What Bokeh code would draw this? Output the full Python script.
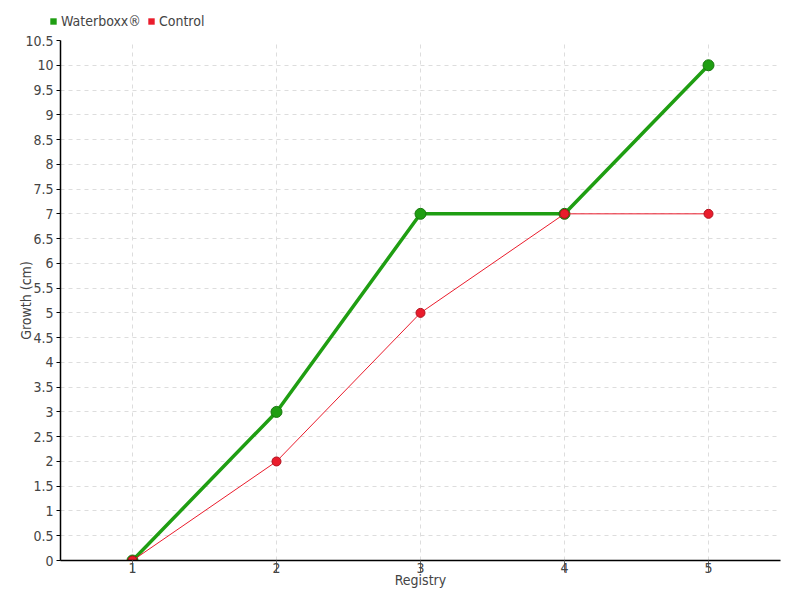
from bokeh.plotting import figure
from bokeh.layouts import column
from bokeh.models import Legend, LegendItem, FixedTicker, Range1d
from bokeh.embed import file_html
from bokeh.resources import INLINE

registry = [1, 2, 3, 4, 5]
waterboxx = [0, 3, 7, 7, 10]
control = [0, 2, 5, 7, 7]
y_ticks = [i * 0.5 for i in range(22)]
series_names = ["Waterboxx®", "Control"]

FONT = "DejaVu Sans Condensed"
GREEN = "#1f9e12"
GREEN_DARK = "#17780d"
RED = "#ea1c2c"

# main plot
p = figure(width=800, height=568, output_backend="svg", toolbar_location=None,
           x_range=Range1d(0.5, 5.5), y_range=Range1d(0, 10.5),
           min_border_left=60, min_border_right=20, min_border_top=8, min_border_bottom=40)
p.outline_line_color = None

p.line(registry, waterboxx, line_color=GREEN, line_width=3.5)
p.scatter(registry, waterboxx, size=11, fill_color=GREEN, line_color=GREEN_DARK, line_width=1)
p.line(registry, control, line_color=RED, line_width=1)
p.scatter(registry, control, size=9, fill_color=RED, line_color="#b0101c", line_width=1)

p.xaxis.ticker = FixedTicker(ticks=registry)
p.yaxis.ticker = FixedTicker(ticks=y_ticks)
p.yaxis.major_label_overrides = {t: (str(int(t)) if t == int(t) else str(t)) for t in y_ticks}

for ax in (p.xaxis[0], p.yaxis[0]):
    ax.major_label_text_font = FONT
    ax.major_label_text_font_size = "14px"
    ax.major_label_text_color = "#444444"
    ax.axis_label_text_font = FONT
    ax.axis_label_text_font_size = "14px"
    ax.axis_label_text_color = "#444444"
    ax.axis_label_text_font_style = "normal"
    ax.minor_tick_line_color = None
    ax.axis_line_color = "#000000"
    ax.axis_line_width = 1.5

p.xaxis.axis_label = "Registry"
p.yaxis.axis_label = "Growth (cm)"
p.xaxis.major_tick_line_color = "#666666"
p.xaxis.major_tick_in = 0
p.xaxis.major_tick_out = 12
p.xaxis.major_label_standoff = -10
p.xaxis.axis_label_standoff = -4
p.yaxis.major_tick_line_color = "#000000"
p.yaxis.major_tick_in = 0
p.yaxis.major_tick_out = 4
p.yaxis.major_label_standoff = 3
p.yaxis.axis_label_standoff = -12

p.grid.grid_line_color = "#dddddd"
p.grid.grid_line_dash = "4 4"
p.grid.grid_line_width = 1

# legend strip above the plot (proxy renderers lie outside its ranges)
lf = figure(width=800, height=32, output_backend="svg", toolbar_location=None,
            x_range=Range1d(100, 101), y_range=Range1d(100, 101),
            min_border=0, x_axis_type=None, y_axis_type=None)
lf.outline_line_color = None
lf.grid.visible = False
legend_x = -15
if "frame_align" in lf.properties():
    lf.frame_align = False
    legend_x = 45
r1 = lf.scatter(registry[:1], waterboxx[:1], marker="square", fill_color=GREEN, line_color=None)
r2 = lf.scatter(registry[:1], control[:1], marker="square", fill_color=RED, line_color=None)
legend = Legend(items=[LegendItem(label=series_names[0], renderers=[r1]),
                       LegendItem(label=series_names[1], renderers=[r2])],
                orientation="horizontal", location=(legend_x, 3),
                glyph_width=16, glyph_height=16, label_standoff=0, spacing=2,
                padding=0, margin=0, border_line_color=None, background_fill_alpha=0,
                label_text_font=FONT, label_text_font_size="14px", label_text_color="#444444",
                label_height=16)
lf.add_layout(legend, "center")

layout = column(lf, p, spacing=0)
open("out.html", "w").write(file_html(layout, INLINE))
